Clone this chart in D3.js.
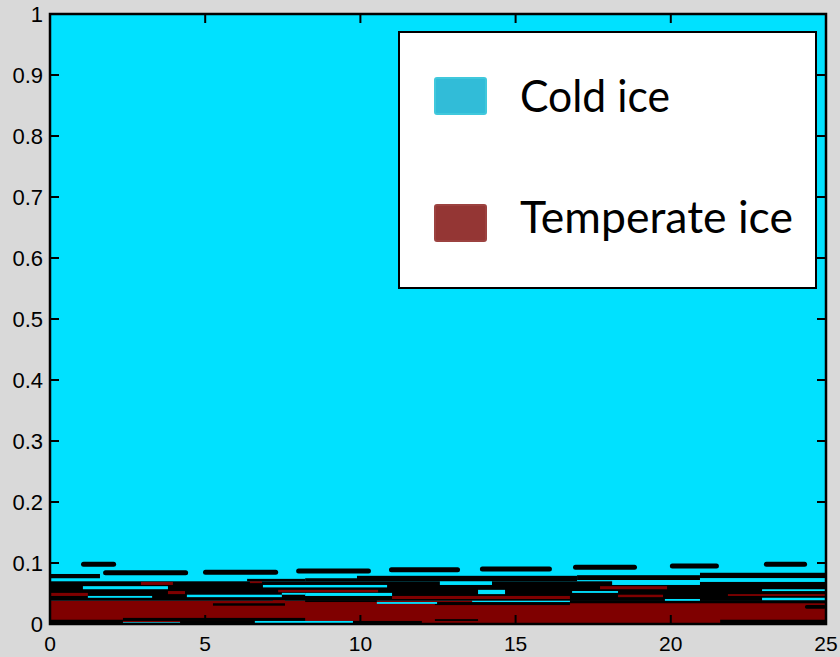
<!DOCTYPE html>
<html>
<head>
<meta charset="utf-8">
<script src="https://cdn.jsdelivr.net/npm/d3@7"></script>
<style>
  html, body { margin: 0; padding: 0; background: #d9d9d9; }
  svg { display: block; }
</style>
</head>
<body>
<script>
// Ice type along the profile: x = distance, y = normalised height
const xTicks = [0, 5, 10, 15, 20, 25];
const yTicks = [0, 0.1, 0.2, 0.3, 0.4, 0.5, 0.6, 0.7, 0.8, 0.9, 1];
const legendLabels = ["Cold ice", "Temperate ice"];

// Filled layers as [x0, x1, y0, y1]
const contourZone = [[0, 25, 0.038, 0.070]];
const temperateBase = [[0, 25, 0, 0.038]];
const temperateStreaks = [
  [2.93, 3.96, 0.064, 0.069],
  [0.0, 1.22, 0.046, 0.051],
  [3.80, 4.35, 0.049, 0.054],
  [6.44, 6.83, 0.067, 0.070],
  [7.35, 10.57, 0.052, 0.056],
  [7.18, 7.57, 0.036, 0.039],
  [11.02, 16.75, 0.041, 0.046],
  [17.72, 19.88, 0.057, 0.062],
  [18.30, 19.75, 0.044, 0.048],
  [21.84, 24.97, 0.046, 0.049]
];
const coldStreaks = [
  [1.06, 3.80, 0.057, 0.062],
  [1.22, 3.29, 0.043, 0.046],
  [6.86, 10.86, 0.060, 0.064],
  [4.41, 7.47, 0.044, 0.048],
  [7.47, 8.22, 0.048, 0.051],
  [8.22, 11.02, 0.046, 0.051],
  [10.53, 12.47, 0.033, 0.036],
  [12.56, 14.24, 0.064, 0.070],
  [13.79, 14.66, 0.049, 0.056],
  [13.60, 16.75, 0.036, 0.038],
  [18.11, 20.94, 0.064, 0.072],
  [20.94, 25.0, 0.069, 0.075],
  [16.82, 18.30, 0.051, 0.054],
  [19.81, 20.94, 0.038, 0.041],
  [22.94, 24.97, 0.039, 0.043],
  [22.94, 24.97, 0.054, 0.057],
  [2.35, 4.19, 0, 0.003],
  [6.60, 9.76, 0, 0.005]
];
const contourLines = [
  [0.0, 1.61, 0.075, 0.082],
  [6.35, 8.22, 0.070, 0.074],
  [8.22, 9.89, 0.070, 0.075],
  [9.89, 16.98, 0.070, 0.079],
  [16.98, 20.94, 0.072, 0.080],
  [20.94, 25.0, 0.075, 0.084],
  [5.25, 7.57, 0.030, 0.034],
  [8.22, 10.53, 0.036, 0.039],
  [12.40, 16.75, 0.031, 0.036],
  [16.75, 25.0, 0.034, 0.039],
  [0.0, 2.35, 0, 0.007],
  [2.35, 8.22, 0.005, 0.010],
  [4.19, 6.60, 0, 0.005],
  [9.76, 11.98, 0, 0.005],
  [12.40, 13.79, 0.005, 0.008],
  [21.59, 25.0, 0, 0.007]
];
const contourEnds = [[24.32, 25.0, 0.025, 0.031]];
// Dashed contour pieces as [x0, x1, y]
const contourDashes = [
  [1.00, 2.13, 0.098],
  [1.71, 4.45, 0.084],
  [4.93, 7.35, 0.085],
  [7.93, 10.34, 0.087],
  [10.92, 13.21, 0.089],
  [13.85, 16.17, 0.090],
  [16.85, 18.91, 0.093],
  [19.97, 21.55, 0.095],
  [23.00, 24.39, 0.098]
];

const W = 840, H = 657;
const colors = { cold: "#00e1ff", temperate: "#7f0000", line: "#000000" };

const svg = d3.select("body").append("svg").attr("width", W).attr("height", H);
const x = d3.scaleLinear().domain([0, 25]).range([50, 826]);
const y = d3.scaleLinear().domain([0, 1]).range([624, 14]);

svg.append("clipPath").attr("id", "plot-clip")
  .append("rect").attr("x", x(0)).attr("y", y(1))
  .attr("width", x(25) - x(0)).attr("height", y(0) - y(1));

const plot = svg.append("g").attr("clip-path", "url(#plot-clip)");

plot.append("rect")
  .attr("x", x(0)).attr("y", y(1))
  .attr("width", x(25) - x(0)).attr("height", y(0) - y(1))
  .attr("fill", colors.cold);

function bands(data, fill, cls, rounded) {
  plot.append("g").attr("class", cls)
    .selectAll("rect").data(data).join("rect")
    .attr("x", d => x(d[0]))
    .attr("y", d => y(d[3]))
    .attr("width", d => x(d[1]) - x(d[0]))
    .attr("height", d => y(d[2]) - y(d[3]))
    .attr("rx", d => rounded ? (y(d[2]) - y(d[3])) / 2 : 0)
    .attr("fill", fill);
}

bands(contourZone, colors.line, "contour-zone");
bands(temperateBase, colors.temperate, "temperate-base");
bands(contourLines, colors.line, "contour-lines");
bands(temperateStreaks, colors.temperate, "temperate-streaks");
bands(coldStreaks, colors.cold, "cold-streaks");
bands(contourEnds, colors.line, "contour-ends", true);

const dashH = 5;
plot.append("g").attr("class", "contour-dashes")
  .selectAll("rect").data(contourDashes).join("rect")
  .attr("x", d => x(d[0]))
  .attr("y", d => y(d[2]) - dashH / 2)
  .attr("width", d => x(d[1]) - x(d[0]))
  .attr("height", dashH)
  .attr("rx", dashH / 2)
  .attr("fill", colors.line);

// Axes: ticks inside on all four sides, box outline
const tickLen = 9;
const axes = svg.append("g").attr("stroke", "#000").attr("stroke-width", 2);
axes.selectAll("line.xb").data(xTicks).join("line")
  .attr("x1", d => x(d)).attr("x2", d => x(d))
  .attr("y1", y(0)).attr("y2", y(0) - tickLen);
axes.selectAll("line.xt").data(xTicks).join("line")
  .attr("x1", d => x(d)).attr("x2", d => x(d))
  .attr("y1", y(1)).attr("y2", y(1) + tickLen);
axes.selectAll("line.yl").data(yTicks).join("line")
  .attr("x1", x(0)).attr("x2", x(0) + tickLen)
  .attr("y1", d => y(d)).attr("y2", d => y(d));
axes.selectAll("line.yr").data(yTicks).join("line")
  .attr("x1", x(25)).attr("x2", x(25) - tickLen)
  .attr("y1", d => y(d)).attr("y2", d => y(d));

svg.append("rect")
  .attr("x", x(0)).attr("y", y(1))
  .attr("width", x(25) - x(0)).attr("height", y(0) - y(1))
  .attr("fill", "none").attr("stroke", "#000").attr("stroke-width", 2.5);

const labelFont = "'Liberation Sans', Arial, sans-serif";
svg.append("g").selectAll("text").data(xTicks).join("text")
  .attr("x", d => x(d)).attr("y", 651)
  .attr("text-anchor", "middle")
  .attr("font-family", labelFont).attr("font-size", 21)
  .text(d => d);
svg.append("g").selectAll("text").data(yTicks).join("text")
  .attr("x", 43).attr("y", d => y(d) + 8)
  .attr("text-anchor", "end")
  .attr("font-family", labelFont).attr("font-size", 22)
  .text(d => d);

// Legend
const legend = svg.append("g");
legend.append("rect")
  .attr("x", 399).attr("y", 32).attr("width", 417).attr("height", 256)
  .attr("fill", "#fff").attr("stroke", "#000").attr("stroke-width", 2);
const legendItems = [
  { label: legendLabels[0], fill: "#31bcd8", stroke: "#40c8dc", top: 78, base: 112, len: 150 },
  { label: legendLabels[1], fill: "#943634", stroke: "#9c4240", top: 205, base: 233, len: 273 }
];
legendItems.forEach(it => {
  legend.append("rect")
    .attr("x", 435).attr("y", it.top).attr("width", 51).attr("height", 36)
    .attr("rx", 2).attr("fill", it.fill).attr("stroke", it.stroke).attr("stroke-width", 2);
  legend.append("text")
    .attr("x", 520).attr("y", it.base)
    .attr("font-family", "Lato, 'Open Sans', sans-serif").attr("font-size", 44)
    .attr("textLength", it.len).attr("lengthAdjust", "spacingAndGlyphs")
    .attr("fill", "#000")
    .text(it.label);
});
</script>
</body>
</html>
